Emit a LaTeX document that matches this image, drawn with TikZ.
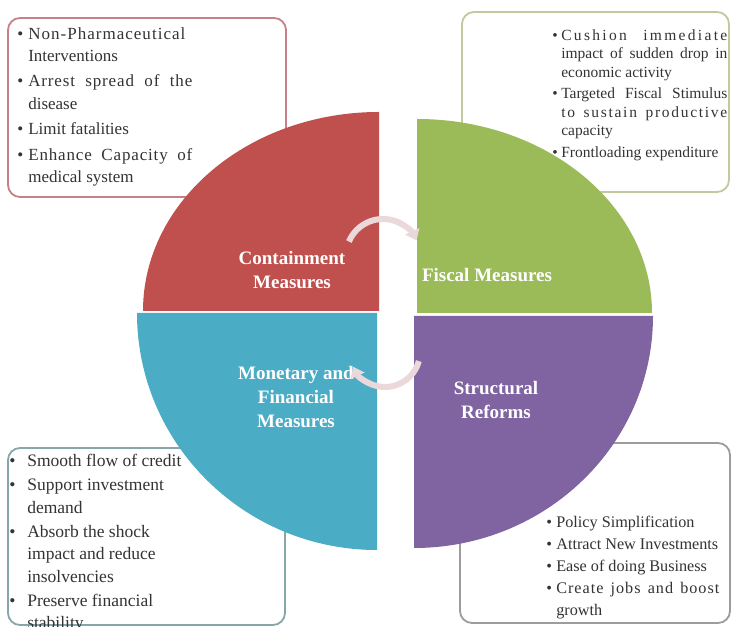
\documentclass[tikz,border=0pt]{standalone}
\usepackage{fontspec}
\setmainfont{Liberation Serif}
\usepackage{tikz}
\usetikzlibrary{arrows.meta}
\definecolor{qRed}{HTML}{C0504D}
\definecolor{qGreen}{HTML}{9BBB59}
\definecolor{qAqua}{HTML}{4BACC6}
\definecolor{qPurple}{HTML}{8064A2}
\definecolor{frRed}{HTML}{C77F88}
\definecolor{frGreen}{HTML}{C3C89E}
\definecolor{frAqua}{HTML}{86A7A9}
\definecolor{frGrey}{HTML}{9C9C9C}
\definecolor{cycPink}{HTML}{EAD8DB}
\colorlet{txtGrey}{black!80}

\begin{document}
\begin{tikzpicture}[x=1pt, y=1pt,
  infobox/.style={draw, fill=white, rounded corners=12pt, line width=1.8pt, inner sep=0pt},
  bultxt/.style={anchor=north west, align=left, inner sep=0pt, text=txtGrey},
  qlabel/.style={font=\bfseries\fontsize{19}{24}\selectfont, text=white, align=center, inner sep=0pt},
  cycarrow/.style={draw=cycPink, line width=6pt, -{Triangle[width=15pt,length=10pt]}},
]
  \def\bl#1{\makebox[#1][l]{\textbullet}}
  \def\fl#1#2#3{\makebox[#1][s]{\addfontfeature{LetterSpace=#2}#3}}
  \fill[white] (0,0) rectangle (733,626);
  \useasboundingbox (0,0) rectangle (733,626);

  \node[infobox, draw=frRed,   minimum width=278pt, minimum height=179pt] (contbox) at (147,518.5) {};
  \node[infobox, draw=frGreen, minimum width=267pt, minimum height=180pt] (fiscbox) at (595.5,524) {};
  \node[infobox, draw=frAqua,  minimum width=277pt, minimum height=177pt] (monebox) at (146.5,89.5) {};
  \node[infobox, draw=frGrey,  minimum width=270pt, minimum height=180pt] (strubox) at (595,93) {};

  \node[bultxt, font=\fontsize{17}{22.5}\selectfont] (conttxt) at ([xshift=10pt,yshift=-10pt]contbox.north west) {%
    \bl{11pt}{\addfontfeature{LetterSpace=6}Non-Pharmaceutical}\\
    \hspace*{11pt}Interventions\\[2.5pt]
    \bl{11pt}\fl{164pt}{5}{Arrest spread of the}\\
    \hspace*{11pt}disease\\[3pt]
    \bl{11pt}Limit fatalities\\[3pt]
    \bl{11pt}\fl{164pt}{5}{Enhance Capacity of}\\
    \hspace*{11pt}medical system};
  \node[bultxt, font=\fontsize{15.5}{18.5}\selectfont] (fisctxt) at ([xshift=91pt,yshift=-18pt]fiscbox.north west) {%
    \bl{9pt}\fl{166pt}{15}{Cushion immediate}\\
    \hspace*{9pt}\fl{166pt}{0}{impact of sudden drop in}\\
    \hspace*{9pt}economic activity\\[3pt]
    \bl{9pt}\fl{166pt}{0}{Targeted Fiscal Stimulus}\\
    \hspace*{9pt}\fl{166pt}{11}{to sustain productive}\\
    \hspace*{9pt}capacity\\[3pt]
    \bl{9pt}Frontloading expenditure};
  \node[bultxt, font=\fontsize{17.5}{22.5}\selectfont] (monetxt) at ([xshift=2pt,yshift=-7pt]monebox.north west) {%
    \bl{18pt}Smooth flow of credit\\[1.5pt]
    \bl{18pt}Support investment\\
    \hspace*{18pt}demand\\[1.5pt]
    \bl{18pt}Absorb the shock\\
    \hspace*{18pt}impact and reduce\\
    \hspace*{18pt}insolvencies\\[1.5pt]
    \bl{18pt}Preserve financial\\
    \hspace*{18pt}stability};
  \node[bultxt, font=\fontsize{16.2}{22}\selectfont] (strutxt) at ([xshift=87pt,yshift=-74pt]strubox.north west) {%
    \bl{10pt}Policy Simplification\\
    \bl{10pt}Attract New Investments\\
    \bl{10pt}Ease of doing Business\\
    \bl{10pt}\fl{163pt}{6}{Create jobs and boost}\\
    \hspace*{10pt}growth};

  \foreach \cx/\cy/\a/\rx/\ry/\col in {379/315/90/236/199/qRed, 417/313/0/235/194/qGreen,
                                       377/313/180/240/237/qAqua, 414/310/270/239/232/qPurple}
    \fill[\col] (\cx,\cy) -- ++({\rx*cos(\a)},{\ry*sin(\a)}) arc[start angle=\a, delta angle=90, x radius=\rx, y radius=\ry] -- cycle;

  \node[qlabel] (cont) at (292,356) {Containment\\Measures};
  \node[qlabel] (fisc) at (487,351) {Fiscal Measures};
  \node[qlabel] (mone) at (296,229) {Monetary and\\Financial\\Measures};
  \node[qlabel] (stru) at (496,226) {Structural\\Reforms};

  \coordinate (hubtop) at (383,370);
  \coordinate (hubbot) at (385,274);
  \draw[cycarrow] ([shift={(157:37)}]hubtop) arc[start angle=157, end angle=25, radius=37];
  \draw[cycarrow] ([shift={(-15:35)}]hubbot) arc[start angle=-15, end angle=-155, radius=35];
\end{tikzpicture}
\end{document}
